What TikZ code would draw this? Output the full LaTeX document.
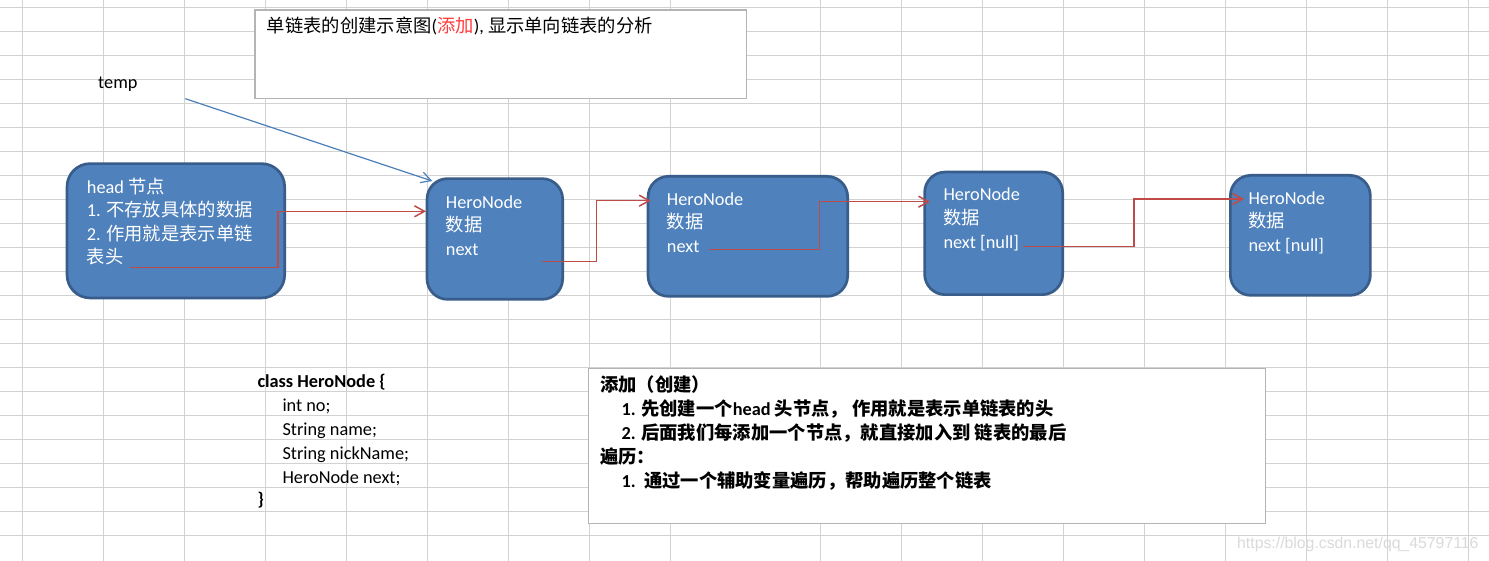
\documentclass[tikz,border=0pt]{standalone}
\usepackage{fontspec}
\setmainfont{Carlito}
\newfontfamily\cjk{Noto Sans CJK SC}
\newfontfamily\wmfont{Liberation Sans}
\usetikzlibrary{arrows.meta}
\definecolor{gridc}{HTML}{D2D2D2}
\definecolor{boxgray}{HTML}{B4B4B4}
\definecolor{nodefill}{HTML}{4F81BD}
\definecolor{nodeline}{HTML}{385D8A}
\definecolor{redline}{HTML}{BE4B48}
\definecolor{blueline}{HTML}{4A7EBB}
\definecolor{titlered}{HTML}{FF3B3B}
\definecolor{wmgray}{HTML}{DADADA}
\tikzset{
  gridline/.style={draw=gridc, line width=1pt},
  heronode/.style={draw=nodeline, fill=nodefill, line width=2.7pt, inner sep=0pt},
  tbox/.style={draw=boxgray, fill=white, line width=1.3pt, inner sep=0pt},
  txt/.style={anchor=base west, inner sep=0pt, font=\fontsize{18.3}{22}\selectfont},
  wtxt/.style={txt, text=white},
  btxt/.style={txt, font=\fontsize{18.3}{22}\selectfont\bfseries},
  redarrow/.style={draw=redline, line width=1.5pt, -{Straight Barb[length=10pt,width=11pt]}},
  bluearrow/.style={draw=blueline, line width=1.2pt, -{Straight Barb[length=10pt,width=11pt]}},
}
\begin{document}
\begin{tikzpicture}[x=1pt,y=-1pt]
\useasboundingbox (0,0) rectangle (1489,561);
\fill[white] (0,0) rectangle (1489,561);
% spreadsheet grid
\foreach \gx in {22.7,103.7,184.5,265.5,346.5,427.5,508.5,589.3,670.3,820.3,901.5,982.3,1063.3,1144.5,1225.5,1306.5,1387.3,1468.5}
  \draw[gridline] (\gx,0) -- (\gx,561);
\foreach \k in {0,...,22}
  \draw[gridline] (0,7.3+24*\k) -- (1489,7.3+24*\k);

% title box
\node[tbox, minimum width=491.7pt, minimum height=88.4pt] (titlebox) at (500.8,54.15) {};
\node[txt] (title) at (266.7,33) {{\cjk 单链表的创建示意图}({\cjk\color{titlered}添加}), {\cjk 显示单向链表的分析}};

% temp label
\node[txt] (temp) at (98,89) {temp};

% list nodes
\node[heronode, minimum width=217.6pt, minimum height=134.3pt, rounded corners=23pt] (head) at (175.85,230.8) {};
\node[heronode, minimum width=135.6pt, minimum height=120.7pt, rounded corners=20.5pt] (n1) at (494.85,239) {};
\node[heronode, minimum width=199.6pt, minimum height=120pt, rounded corners=20.5pt] (n2) at (747.85,236.35) {};
\node[heronode, minimum width=138pt, minimum height=122.6pt, rounded corners=20.5pt] (n3) at (993.65,233.35) {};
\node[heronode, minimum width=140pt, minimum height=120pt, rounded corners=20.5pt] (n4) at (1300.35,235.35) {};

% head text
\node[wtxt] (h1) at (86.7,193.3) {head {\cjk 节点}};
\node[wtxt] (h2) at (86.7,216.8) {1. {\cjk 不存放具体的数据}};
\node[wtxt] (h3) at (86.7,240.3) {2. {\cjk 作用就是表示单链}};
\node[wtxt] (h4) at (86.7,263.8) {{\cjk 表头}};

% node texts
\node[wtxt] (a1) at (445.7,208.3) {HeroNode};
\node[wtxt] (a2) at (445.7,231.8) {{\cjk 数据}};
\node[wtxt] (a3) at (445.7,255.3) {next};

\node[wtxt] (b1) at (666.7,205.3) {HeroNode};
\node[wtxt] (b2) at (666.7,228.8) {{\cjk 数据}};
\node[wtxt] (b3) at (666.7,252.3) {next};

\node[wtxt] (c1) at (943.3,201) {HeroNode};
\node[wtxt] (c2) at (943.3,224.5) {{\cjk 数据}};
\node[wtxt] (c3) at (943.3,248.5) {next [null]};

\node[wtxt] (d1) at (1248.3,204.3) {HeroNode};
\node[wtxt] (d2) at (1248.3,227.8) {{\cjk 数据}};
\node[wtxt] (d3) at (1248.3,251.5) {next [null]};

% connector ends
\coordinate (ts) at (185.3,98.7);
\coordinate (te) at (432.3,181);
\coordinate (hs) at (130,267.7);
\coordinate (ht) at (426,211.3);
\coordinate (s1) at (541.7,261.7);
\coordinate (t2) at (650.7,200.7);
\coordinate (s2) at (709.3,249.3);
\coordinate (t3) at (930,201.7);
\coordinate (s3) at (1023.3,246.7);
\coordinate (t4) at (1244,199);

\draw[bluearrow] (ts) -- (te);
\draw[redarrow] (hs) -- ++(148,0) |- (ht);
\draw[redarrow] (s1) -- ++(55,0) |- (t2);
\draw[redarrow] (s2) -- ++(110,0) |- (t3);
\draw[redarrow] (s3) -- ++(110.7,0) |- (t4);

% class text
\node[btxt] (k1) at (257.3,387.3) {class HeroNode \{};
\node[txt] (k2) at (282.3,411.3) {int no;};
\node[txt] (k3) at (282.3,435.3) {String name;};
\node[txt] (k4) at (282.3,459.3) {String nickName;};
\node[txt] (k5) at (282.3,483.3) {HeroNode next;};
\node[btxt] (k6) at (257.3,505.5) {\}};

% explanation box
\node[tbox, minimum width=676.7pt, minimum height=154.7pt] (ebox) at (927,446) {};
\node[btxt] (e1) at (600,391) {{\cjk\bfseries 添加（创建）}};
\node[btxt] (e2) at (621.5,415) {1. {\cjk\bfseries 先创建一个}head {\cjk\bfseries 头节点， 作用就是表示单链表的头}};
\node[btxt] (e3) at (621.5,439) {2. {\cjk\bfseries 后面我们每添加一个节点，就直接加入到 链表的最后}};
\node[btxt] (e4) at (600,463) {{\cjk\bfseries 遍历：}};
\node[btxt] (e5) at (621.5,487) {1.\ \ {\cjk\bfseries 通过一个辅助变量遍历，帮助遍历整个链表}};

% watermark
\node[anchor=base west, inner sep=0pt, text=wmgray, font=\wmfont\fontsize{15.8}{18}\selectfont] (wm) at (1237,548.3) {https://blog.csdn.net/qq\_45797116};
\end{tikzpicture}
\end{document}
